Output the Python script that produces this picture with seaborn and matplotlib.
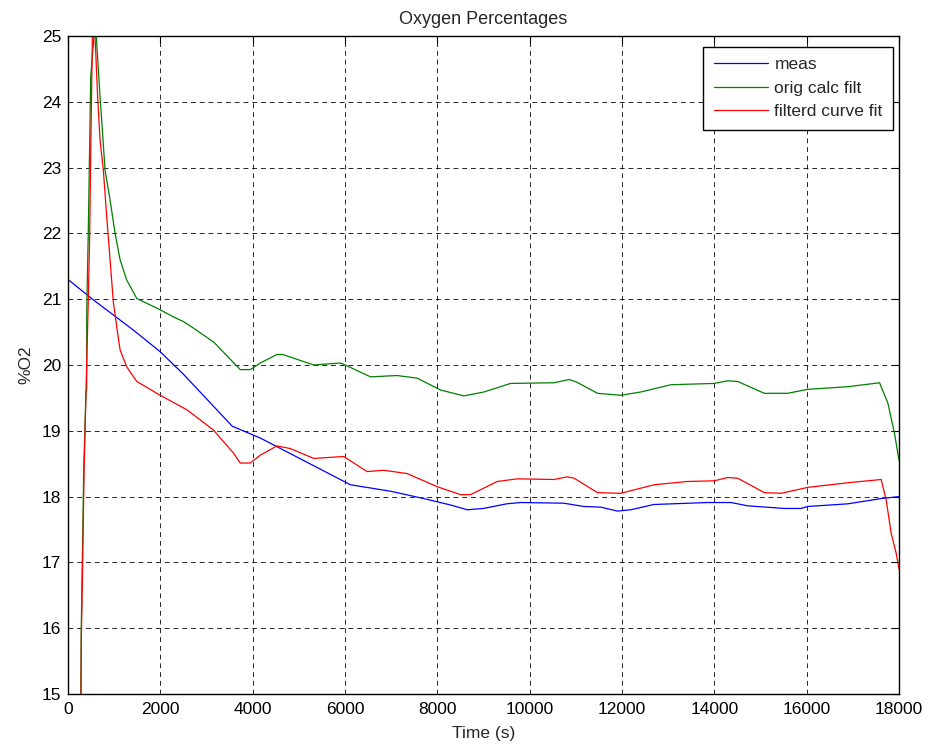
import matplotlib
matplotlib.use("Agg")
import matplotlib.pyplot as plt
import seaborn as sns
import pandas as pd

# Measured O2 percentage
meas_t = [0, 549, 1417, 2000, 2500, 3557, 4165, 6117, 7000, 7708, 8300, 8650,
          9000, 9500, 9805, 10738, 11171, 11540, 11902, 12190, 12690, 13854,
          14360, 14722, 15510, 15878, 16023, 16891, 17614, 18000]
meas_o2 = [21.30, 20.99, 20.53, 20.20, 19.86, 19.07, 18.89, 18.18, 18.08, 17.97,
           17.87, 17.80, 17.82, 17.89, 17.91, 17.90, 17.85, 17.84, 17.78, 17.80,
           17.88, 17.91, 17.91, 17.86, 17.82, 17.82, 17.85, 17.89, 17.97, 18.00]

# Original calculated fit
orig_t = [272, 285, 312, 340, 390, 405, 406, 440, 492, 565, 592, 622, 694, 730,
          803, 911, 1020, 1128, 1273, 1490, 1996, 2285, 2501, 2719, 3153, 3731,
          3948, 4165, 4527, 4650, 5322, 5900, 5972, 6551, 7130, 7564, 8069, 8575,
          9009, 9588, 10527, 10853, 11019, 11468, 11974, 12408, 13059, 13998,
          14288, 14505, 15083, 15589, 16023, 16891, 17578, 17759, 17903, 18000]
orig_o2 = [14.5, 15.9, 17.1, 18.4, 19.6, 19.62, 20.84, 22.05, 24.38, 25.0, 25.5,
           24.89, 24.08, 23.72, 22.96, 22.51, 22.0, 21.6, 21.29, 21.01, 20.84,
           20.73, 20.66, 20.56, 20.35, 19.93, 19.93, 20.03, 20.16, 20.16, 20.0,
           20.03, 20.01, 19.82, 19.84, 19.80, 19.62, 19.53, 19.59, 19.72, 19.73,
           19.78, 19.74, 19.57, 19.54, 19.59, 19.70, 19.72, 19.76, 19.75, 19.57,
           19.57, 19.63, 19.67, 19.73, 19.42, 18.96, 18.55]

# Filtered curve fit
filt_t = [280, 290, 318, 347, 390, 440, 470, 498, 528, 557, 586, 640, 694, 766,
          839, 983, 1056, 1128, 1273, 1490, 1996, 2574, 3153, 3586, 3731, 3948,
          4165, 4527, 4816, 5322, 5972, 6479, 6840, 7347, 7998, 8503, 8720, 9299,
          9733, 10527, 10817, 10962, 11468, 11974, 12697, 13420, 13998, 14288,
          14505, 15083, 15445, 16023, 16891, 17614, 17722, 17831, 17939, 18000]
filt_o2 = [14.5, 15.9, 17.0, 18.35, 19.6, 21.0, 22.0, 23.5, 25.0, 25.5, 25.0,
           24.1, 23.42, 22.96, 22.25, 20.95, 20.58, 20.23, 19.97, 19.75, 19.54,
           19.32, 19.01, 18.66, 18.51, 18.51, 18.63, 18.77, 18.73, 18.58, 18.61,
           18.38, 18.40, 18.35, 18.15, 18.03, 18.03, 18.23, 18.27, 18.26, 18.30,
           18.28, 18.06, 18.05, 18.18, 18.23, 18.24, 18.29, 18.28, 18.06, 18.05,
           18.14, 18.21, 18.26, 17.95, 17.44, 17.14, 16.90]

x_ticks = list(range(0, 18001, 2000))
y_ticks = list(range(15, 26))

sns.set_theme(style="white")
plt.rcParams["font.family"] = ["Liberation Sans", "DejaVu Sans"]

fig = plt.figure(figsize=(9.29, 7.48), dpi=100)
ax = fig.add_axes([68 / 929, 1 - 694 / 748, 831 / 929, 658 / 748])

series = [
    (meas_t, meas_o2, "meas", "#0000ff"),
    (orig_t, orig_o2, "orig calc filt", "#008000"),
    (filt_t, filt_o2, "filterd curve fit", "#ff0000"),
]
for t, o2, name, color in series:
    df = pd.DataFrame({"t": t, "o2": o2})
    sns.lineplot(data=df, x="t", y="o2", ax=ax, color=color, linewidth=0.9,
                 label=name, estimator=None, sort=False)

ax.set_xlim(0, 18000)
ax.set_ylim(15, 25)
ax.set_xticks(x_ticks)
ax.set_yticks(y_ticks)
ax.set_xticklabels([str(v) for v in x_ticks])
ax.set_yticklabels([str(v) for v in y_ticks])

ax.grid(True, color="black", linestyle=(0, (5, 4)), linewidth=0.7, alpha=0.85)
for s in ax.spines.values():
    s.set_visible(True)
    s.set_color("black")
    s.set_linewidth(1.0)
ax.tick_params(direction="in", length=5, width=0.8, top=True, right=True,
               labelsize=12.5, colors="black")
ax.tick_params(axis="x", pad=6)
ax.tick_params(axis="y", pad=5)

ax.set_title("Oxygen Percentages", fontsize=13, pad=9)
ax.set_xlabel("Time (s)", fontsize=12.5, labelpad=6)
ax.set_ylabel("%O2", fontsize=12.5, labelpad=6)

leg = ax.legend(loc="upper right", bbox_to_anchor=(0.9928, 0.9837),
                borderaxespad=0, fontsize=12.5, frameon=True, fancybox=False,
                handlelength=3.15, handletextpad=0.35, labelspacing=0.48,
                borderpad=0.6)
leg.get_frame().set_edgecolor("black")
leg.get_frame().set_linewidth(1.0)
leg.get_frame().set_alpha(1.0)

fig.savefig("out.png", dpi=100, facecolor="white")
